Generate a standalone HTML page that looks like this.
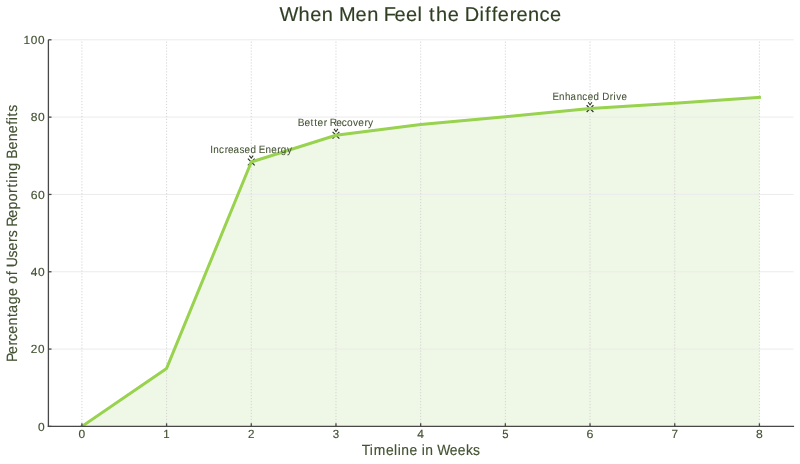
<!DOCTYPE html><html><head><meta charset="utf-8"><style>html,body{margin:0;padding:0;background:#fff;overflow:hidden}svg{display:block;will-change:transform}</style></head><body><svg width="800" height="464" viewBox="0 0 800 464">
<rect width="800" height="464" fill="#ffffff"/>
<polygon points="81.90,426.40 81.90,426.40 166.59,368.41 251.28,161.97 335.97,135.29 420.66,124.47 505.35,116.73 590.04,108.61 674.73,103.20 759.42,97.40 759.42,426.40" fill="#96d35a" fill-opacity="0.15"/>
<path d="M247.88,158.57L254.68,165.37M247.88,165.37L254.68,158.57" stroke="#2b3820" stroke-width="1.2"/>
<path d="M332.57,131.89L339.37,138.69M332.57,138.69L339.37,131.89" stroke="#2b3820" stroke-width="1.2"/>
<path d="M586.64,105.21L593.44,112.01M586.64,112.01L593.44,105.21" stroke="#2b3820" stroke-width="1.2"/>
<line x1="48.4" y1="426.40" x2="793.5" y2="426.40" stroke="#ebebeb" stroke-width="1"/>
<line x1="48.4" y1="349.08" x2="793.5" y2="349.08" stroke="#ebebeb" stroke-width="1"/>
<line x1="48.4" y1="271.76" x2="793.5" y2="271.76" stroke="#ebebeb" stroke-width="1"/>
<line x1="48.4" y1="194.44" x2="793.5" y2="194.44" stroke="#ebebeb" stroke-width="1"/>
<line x1="48.4" y1="117.12" x2="793.5" y2="117.12" stroke="#ebebeb" stroke-width="1"/>
<line x1="48.4" y1="39.80" x2="793.5" y2="39.80" stroke="#ebebeb" stroke-width="1"/>
<line x1="81.90" y1="39.8" x2="81.90" y2="426.4" stroke="#d0d0d0" stroke-width="0.9" stroke-dasharray="1.2 1.77" stroke-dashoffset="1.17"/>
<line x1="166.59" y1="39.8" x2="166.59" y2="426.4" stroke="#d0d0d0" stroke-width="0.9" stroke-dasharray="1.2 1.77" stroke-dashoffset="1.17"/>
<line x1="251.28" y1="39.8" x2="251.28" y2="426.4" stroke="#d0d0d0" stroke-width="0.9" stroke-dasharray="1.2 1.77" stroke-dashoffset="1.17"/>
<line x1="335.97" y1="39.8" x2="335.97" y2="426.4" stroke="#d0d0d0" stroke-width="0.9" stroke-dasharray="1.2 1.77" stroke-dashoffset="1.17"/>
<line x1="420.66" y1="39.8" x2="420.66" y2="426.4" stroke="#d0d0d0" stroke-width="0.9" stroke-dasharray="1.2 1.77" stroke-dashoffset="1.17"/>
<line x1="505.35" y1="39.8" x2="505.35" y2="426.4" stroke="#d0d0d0" stroke-width="0.9" stroke-dasharray="1.2 1.77" stroke-dashoffset="1.17"/>
<line x1="590.04" y1="39.8" x2="590.04" y2="426.4" stroke="#d0d0d0" stroke-width="0.9" stroke-dasharray="1.2 1.77" stroke-dashoffset="1.17"/>
<line x1="674.73" y1="39.8" x2="674.73" y2="426.4" stroke="#d0d0d0" stroke-width="0.9" stroke-dasharray="1.2 1.77" stroke-dashoffset="1.17"/>
<line x1="759.42" y1="39.8" x2="759.42" y2="426.4" stroke="#d0d0d0" stroke-width="0.9" stroke-dasharray="1.2 1.77" stroke-dashoffset="1.17"/>
<clipPath id="ax"><rect x="48.4" y="39.8" width="745.1" height="386.6"/></clipPath>
<polyline points="81.90,426.40 166.59,368.41 251.28,161.97 335.97,135.29 420.66,124.47 505.35,116.73 590.04,108.61 674.73,103.20 759.42,97.40" fill="none" stroke="#98d24e" stroke-width="3" stroke-linejoin="round" stroke-linecap="square" clip-path="url(#ax)"/>
<path d="M249.38,155.57L251.28,158.17L253.18,155.57" fill="none" stroke="#2b3820" stroke-width="1.05"/>
<path d="M334.07,128.89L335.97,131.49L337.87,128.89" fill="none" stroke="#2b3820" stroke-width="1.05"/>
<path d="M588.14,102.21L590.04,104.81L591.94,102.21" fill="none" stroke="#2b3820" stroke-width="1.05"/>
<line x1="48.4" y1="39.8" x2="48.4" y2="427" stroke="#484848" stroke-width="1.3"/>
<line x1="47.8" y1="426.4" x2="794.1" y2="426.4" stroke="#484848" stroke-width="1.3"/>
<line x1="48.4" y1="426.40" x2="51.5" y2="426.40" stroke="#484848" stroke-width="1.3"/>
<line x1="48.4" y1="349.08" x2="51.5" y2="349.08" stroke="#484848" stroke-width="1.3"/>
<line x1="48.4" y1="271.76" x2="51.5" y2="271.76" stroke="#484848" stroke-width="1.3"/>
<line x1="48.4" y1="194.44" x2="51.5" y2="194.44" stroke="#484848" stroke-width="1.3"/>
<line x1="48.4" y1="117.12" x2="51.5" y2="117.12" stroke="#484848" stroke-width="1.3"/>
<line x1="48.4" y1="39.80" x2="51.5" y2="39.80" stroke="#484848" stroke-width="1.3"/>
<line x1="81.90" y1="426.4" x2="81.90" y2="423.3" stroke="#484848" stroke-width="1.3"/>
<line x1="166.59" y1="426.4" x2="166.59" y2="423.3" stroke="#484848" stroke-width="1.3"/>
<line x1="251.28" y1="426.4" x2="251.28" y2="423.3" stroke="#484848" stroke-width="1.3"/>
<line x1="335.97" y1="426.4" x2="335.97" y2="423.3" stroke="#484848" stroke-width="1.3"/>
<line x1="420.66" y1="426.4" x2="420.66" y2="423.3" stroke="#484848" stroke-width="1.3"/>
<line x1="505.35" y1="426.4" x2="505.35" y2="423.3" stroke="#484848" stroke-width="1.3"/>
<line x1="590.04" y1="426.4" x2="590.04" y2="423.3" stroke="#484848" stroke-width="1.3"/>
<line x1="674.73" y1="426.4" x2="674.73" y2="423.3" stroke="#484848" stroke-width="1.3"/>
<line x1="759.42" y1="426.4" x2="759.42" y2="423.3" stroke="#484848" stroke-width="1.3"/>
<text transform="translate(0,430.60) scale(1.0157,1)" x="37.41" y="0" text-rendering="geometricPrecision" font-family="Liberation Sans, sans-serif" font-size="11.8" fill="#435233" stroke="#435233" stroke-width="0.15">0</text>
<text transform="translate(0,353.28) scale(0.9978,1)" x="30.74 38.14" y="0" text-rendering="geometricPrecision" font-family="Liberation Sans, sans-serif" font-size="11.8" fill="#435233" stroke="#435233" stroke-width="0.15">20</text>
<text transform="translate(0,275.96) scale(1.0158,1)" x="30.29 37.41" y="0" text-rendering="geometricPrecision" font-family="Liberation Sans, sans-serif" font-size="11.8" fill="#435233" stroke="#435233" stroke-width="0.15">40</text>
<text transform="translate(0,198.64) scale(1.0332,1)" x="29.73 36.73" y="0" text-rendering="geometricPrecision" font-family="Liberation Sans, sans-serif" font-size="11.8" fill="#435233" stroke="#435233" stroke-width="0.15">60</text>
<text transform="translate(0,121.32) scale(1.0212,1)" x="30.11 37.20" y="0" text-rendering="geometricPrecision" font-family="Liberation Sans, sans-serif" font-size="11.8" fill="#435233" stroke="#435233" stroke-width="0.15">80</text>
<text transform="translate(0,44.00) scale(1.0015,1)" x="23.49 30.77 37.99" y="0" text-rendering="geometricPrecision" font-family="Liberation Sans, sans-serif" font-size="11.8" fill="#435233" stroke="#435233" stroke-width="0.15">100</text>
<text transform="translate(0,438.30) scale(1.0157,1)" x="77.35" y="0" text-rendering="geometricPrecision" font-family="Liberation Sans, sans-serif" font-size="11.8" fill="#435233" stroke="#435233" stroke-width="0.15">0</text>
<text transform="translate(0,438.30) scale(0.9701,1)" x="168.28" y="0" text-rendering="geometricPrecision" font-family="Liberation Sans, sans-serif" font-size="11.8" fill="#435233" stroke="#435233" stroke-width="0.15">1</text>
<text transform="translate(0,438.30) scale(0.9791,1)" x="253.38" y="0" text-rendering="geometricPrecision" font-family="Liberation Sans, sans-serif" font-size="11.8" fill="#435233" stroke="#435233" stroke-width="0.15">2</text>
<text transform="translate(0,438.30) scale(0.9755,1)" x="341.17" y="0" text-rendering="geometricPrecision" font-family="Liberation Sans, sans-serif" font-size="11.8" fill="#435233" stroke="#435233" stroke-width="0.15">3</text>
<text transform="translate(0,438.30) scale(1.0158,1)" x="410.85" y="0" text-rendering="geometricPrecision" font-family="Liberation Sans, sans-serif" font-size="11.8" fill="#435233" stroke="#435233" stroke-width="0.15">4</text>
<text transform="translate(0,438.30) scale(0.9586,1)" x="523.91" y="0" text-rendering="geometricPrecision" font-family="Liberation Sans, sans-serif" font-size="11.8" fill="#435233" stroke="#435233" stroke-width="0.15">5</text>
<text transform="translate(0,438.30) scale(1.0512,1)" x="557.95" y="0" text-rendering="geometricPrecision" font-family="Liberation Sans, sans-serif" font-size="11.8" fill="#435233" stroke="#435233" stroke-width="0.15">6</text>
<text transform="translate(0,438.30) scale(0.9936,1)" x="675.81" y="0" text-rendering="geometricPrecision" font-family="Liberation Sans, sans-serif" font-size="11.8" fill="#435233" stroke="#435233" stroke-width="0.15">7</text>
<text transform="translate(0,438.30) scale(1.0267,1)" x="736.37" y="0" text-rendering="geometricPrecision" font-family="Liberation Sans, sans-serif" font-size="11.8" fill="#435233" stroke="#435233" stroke-width="0.15">8</text>
<text transform="translate(0,152.87) scale(0.9322,1)" x="225.63 228.87 235.01 241.07 244.68 250.48 256.97 262.36 268.60 274.95 277.65 284.69 291.00 297.55 301.22 307.78" y="0" text-rendering="geometricPrecision" font-family="Liberation Sans, sans-serif" font-size="10.6" fill="#435233" stroke="#435233" stroke-width="0.05">Increased Energy</text>
<text transform="translate(0,126.19) scale(0.9594,1)" x="310.46 317.42 323.75 327.57 331.04 337.37 341.03 343.75 350.44 356.27 361.74 367.89 373.48 379.82 383.63" y="0" text-rendering="geometricPrecision" font-family="Liberation Sans, sans-serif" font-size="10.6" fill="#435233" stroke="#435233" stroke-width="0.05">Better Recovery</text>
<text transform="translate(0,99.51) scale(0.9188,1)" x="601.40 608.48 614.93 620.89 627.64 633.82 639.60 645.88 652.27 655.48 663.74 667.64 670.59 676.46" y="0" text-rendering="geometricPrecision" font-family="Liberation Sans, sans-serif" font-size="10.6" fill="#435233" stroke="#435233" stroke-width="0.05">Enhanced Drive</text>
<text transform="translate(0,20.70) scale(1.0051,1)" x="278.04 296.97 308.59 320.19 331.75 337.18 353.69 365.28 376.84 381.77 392.43 403.85 415.43 420.40 426.94 433.75 445.37 456.76 462.46 477.15 482.66 489.20 495.21 507.26 513.85 525.44 536.72 547.24" y="0" text-rendering="geometricPrecision" font-family="Liberation Sans, sans-serif" font-size="19.9" fill="#303f24" stroke="#303f24" stroke-width="0.15">When Men Feel the Difference</text>
<text transform="translate(0,454.60) scale(0.9292,1)" x="389.23 397.92 402.17 415.35 424.06 427.96 431.88 440.62 449.20 453.80 457.71 466.42 470.60 483.94 492.55 501.41 509.11" y="0" text-rendering="geometricPrecision" font-family="Liberation Sans, sans-serif" font-size="14.9" fill="#435233" stroke="#435233" stroke-width="0.15">Timeline in Weeks</text>
<text transform="translate(16.60,0) rotate(-90) scale(0.9400,1)" x="-385.23 -376.62 -367.58 -362.88 -355.00 -346.31 -337.16 -332.74 -323.61 -314.81 -306.27 -301.87 -292.92 -288.44 -284.45 -273.98 -266.56 -257.53 -252.45 -245.06 -241.11 -231.57 -222.82 -214.23 -205.19 -199.49 -194.37 -190.50 -181.78 -173.00 -168.94 -159.01 -150.32 -141.63 -132.68 -128.06 -123.86 -119.02" y="0" text-rendering="geometricPrecision" font-family="Liberation Sans, sans-serif" font-size="14.9" fill="#435233" stroke="#435233" stroke-width="0.15">Percentage of Users Reporting Benefits</text>
</svg></body></html>
